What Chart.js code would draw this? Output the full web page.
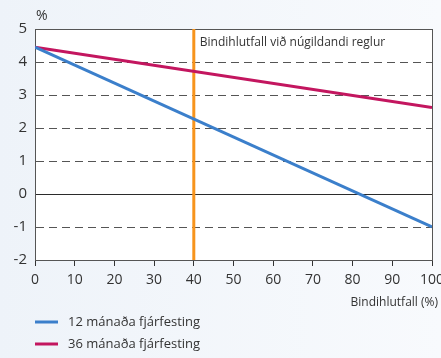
<!DOCTYPE html>
<html>
<head>
<meta charset="utf-8">
<script src="https://cdn.jsdelivr.net/npm/chart.js@4"></script>
<style>
  html, body { margin: 0; padding: 0; }
  body {
    width: 441px; height: 358px; overflow: hidden;
    background: linear-gradient(to right, #eef3f9, #f8fafd);
  }
  #wrap { position: relative; width: 441px; height: 358px; }
</style>
</head>
<body>
<div id="wrap"><canvas id="chart" width="441" height="358"></canvas></div>
<script>
// x = bindihlutfall (%), y = %
const xPoints = [0, 100];
const months12 = [4.45, -1.0];
const months36 = [4.45, 2.62];
const currentRatio = 40;
const seriesNames = ["12 mánaða fjárfesting", "36 mánaða fjárfesting"];
const seriesColors = ["#3b7fcb", "#c3165f"];
const currentLabel = "Bindihlutfall við núgildandi reglur";
const xTitle = "Bindihlutfall (%)";
const yUnit = "%";

const FONT = "'Open Sans', 'Noto Sans', sans-serif";

const toPoints = (vals) => vals.map((v, i) => ({ x: xPoints[i], y: v }));

// frame, zero line, texts and legend
const extras = {
  id: "extras",
  beforeDraw(chart) {
    const { ctx, chartArea: a } = chart;
    ctx.save();
    ctx.fillStyle = "#fff";
    ctx.fillRect(a.left, a.top, a.right - a.left, a.bottom - a.top);
    ctx.restore();
  },
  beforeDatasetsDraw(chart) {
    const { ctx, chartArea: a, scales } = chart;
    const y0 = scales.y.getPixelForValue(0);
    ctx.save();
    ctx.strokeStyle = "#2b2b2b";
    ctx.lineWidth = 1;
    ctx.beginPath();
    ctx.moveTo(a.left, Math.round(y0) + 0.5);
    ctx.lineTo(a.right, Math.round(y0) + 0.5);
    ctx.stroke();
    ctx.strokeStyle = "#555";
    ctx.strokeRect(a.left + 0.5, a.top + 0.5, a.right - a.left, a.bottom - a.top);
    ctx.restore();
  },
  afterDraw(chart) {
    const { ctx, chartArea: a, scales } = chart;
    ctx.save();
    ctx.fillStyle = "#333";
    ctx.textBaseline = "middle";
    ctx.font = "14px " + FONT;
    ctx.textAlign = "left";
    ctx.fillText(yUnit, a.left + 1, 16);

    ctx.font = "12px " + FONT;
    ctx.fillText(currentLabel, scales.x.getPixelForValue(currentRatio) + 6, 43);

    ctx.textAlign = "right";
    ctx.fillText(xTitle, 438, 303);

    ctx.textAlign = "left";
    ctx.font = "13px " + FONT;
    chart.data.datasets.slice(0, 2).forEach((ds, i) => {
      const y = 322 + i * 22;
      ctx.strokeStyle = ds.borderColor;
      ctx.lineWidth = 3;
      ctx.beginPath();
      ctx.moveTo(35, y);
      ctx.lineTo(58, y);
      ctx.stroke();
      ctx.fillStyle = "#333";
      ctx.fillText(ds.label, 68, y);
    });
    ctx.restore();
  }
};

new Chart(document.getElementById("chart"), {
  type: "line",
  data: {
    datasets: [
      {
        label: seriesNames[0],
        data: toPoints(months12),
        borderColor: seriesColors[0],
        borderWidth: 3,
        pointRadius: 0,
        tension: 0
      },
      {
        label: seriesNames[1],
        data: toPoints(months36),
        borderColor: seriesColors[1],
        borderWidth: 3,
        pointRadius: 0,
        tension: 0
      },
      {
        label: currentLabel,
        data: [{ x: currentRatio, y: -2 }, { x: currentRatio, y: 5 }],
        borderColor: "#f7941d",
        borderWidth: 3,
        pointRadius: 0
      }
    ]
  },
  options: {
    responsive: false,
    animation: false,
    devicePixelRatio: 1,
    layout: { padding: { top: 29, right: 9, left: 0, bottom: 0 } },
    plugins: { legend: { display: false }, tooltip: { enabled: false } },
    scales: {
      x: {
        type: "linear",
        min: 0,
        max: 100,
        ticks: {
          stepSize: 10,
          color: "#333",
          font: { family: FONT, size: 14 },
          padding: 6,
          maxRotation: 0
        },
        grid: { drawOnChartArea: false, drawTicks: true, tickLength: 6, tickColor: "#333" },
        border: { color: "#333" },
        afterFit(s) { s.height = 98; s.paddingLeft = 0; s.paddingRight = 0; }
      },
      y: {
        min: -2,
        max: 5,
        ticks: {
          stepSize: 1,
          color: "#333",
          font: { family: FONT, size: 15 },
          padding: 8
        },
        grid: {
          drawTicks: false,
          color: (c) => (c.tick && (c.tick.value === 0 || c.tick.value === 5 || c.tick.value === -2)) ? "rgba(0,0,0,0)" : "#555"
        },
        border: { color: "#333", dash: [8, 5] },
        afterFit(s) { s.width = 35; s.paddingTop = 0; s.paddingBottom = 0; }
      }
    }
  },
  plugins: [extras]
});
</script>
</body>
</html>
